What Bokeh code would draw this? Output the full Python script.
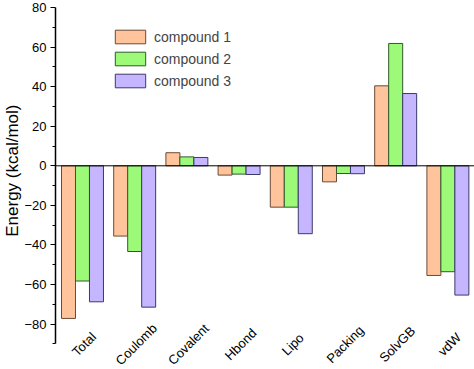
import math
from bokeh.plotting import figure
from bokeh.models import (ColumnDataSource, FixedTicker, Span, Title, Legend, LegendItem, Range1d)
from bokeh.transform import dodge
from bokeh.core.properties import value
from bokeh.embed import file_html
from bokeh.resources import INLINE

categories = ["Total", "Coulomb", "Covalent", "Hbond", "Lipo", "Packing", "SolvGB", "vdW"]
compound1 = [-77.1, -35.5, 6.6, -4.7, -20.9, -8.1, 40.4, -55.4]
compound2 = [-58.2, -43.3, 4.5, -4.2, -20.9, -3.9, 61.8, -53.5]
compound3 = [-68.7, -71.4, 4.2, -4.4, -34.3, -4.0, 36.5, -65.3]
series_names = ["compound 1", "compound 2", "compound 3"]
y_ticks = [-80, -60, -40, -20, 0, 20, 40, 60, 80]
y_minor = [-90, -70, -50, -30, -10, 10, 30, 50, 70]

FONT = "Liberation Sans"
fills = ["#FFC49B", "#9CFA78", "#C6B5FF"]
lines = ["#6b4a35", "#2d5a2d", "#3a3a6a"]

src = ColumnDataSource(dict(x=list(range(len(categories))), cat=categories,
                            c1=compound1, c2=compound2, c3=compound3))

p = figure(width=474, height=369, output_backend="svg", toolbar_location=None,
           x_range=Range1d(-0.517, 7.51), y_range=Range1d(-102.9, 83.5),
           x_axis_location=None, min_border_left=55, min_border_right=0,
           min_border_top=0, min_border_bottom=0)
p.outline_line_color = None
p.xgrid.visible = False
p.ygrid.visible = False

bw = 0.268
renderers = []
for i, key in enumerate(["c1", "c2", "c3"]):
    r = p.vbar(x=dodge("x", (i - 1) * bw), top=key, bottom=0, width=bw, source=src,
               fill_color=fills[i], line_color=lines[i], line_width=1)
    renderers.append(r)

p.add_layout(Span(location=0, dimension="width", line_color="black", line_width=1))

ax = p.yaxis[0]
ax.ticker = FixedTicker(ticks=y_ticks, minor_ticks=y_minor)
ax.bounds = (-90, 80)
ax.axis_line_width = 1.5
ax.axis_line_color = "black"
ax.major_tick_out = 5
ax.major_tick_in = 0
ax.minor_tick_out = 3
ax.minor_tick_in = 0
ax.major_tick_line_color = "black"
ax.minor_tick_line_color = "black"
ax.major_label_text_font = FONT
ax.major_label_text_font_size = "13px"
ax.major_label_text_color = "black"
ax.major_label_standoff = 4

p.text(x=dodge("x", 0.03), y=-90.2, text="cat", source=src, angle=math.pi / 4,
       text_align="center", text_baseline="middle",
       text_font=value(FONT), text_font_size="13px", text_color="black")

p.add_layout(Title(text="Energy (kcal/mol)", align="right", offset=104, standoff=0,
                   text_font=FONT, text_font_size="17px", text_font_style="normal",
                   text_color="black"), "left")

legend = Legend(items=[LegendItem(label=series_names[i], renderers=[renderers[i]]) for i in range(3)],
                location=(56, 280), glyph_width=38, glyph_height=17, label_height=17,
                spacing=5, padding=0, margin=0, label_standoff=5,
                label_text_font=FONT, label_text_font_size="14px",
                border_line_alpha=0, background_fill_alpha=0)
p.add_layout(legend)

open("out.html", "w").write(file_html(p, INLINE))
